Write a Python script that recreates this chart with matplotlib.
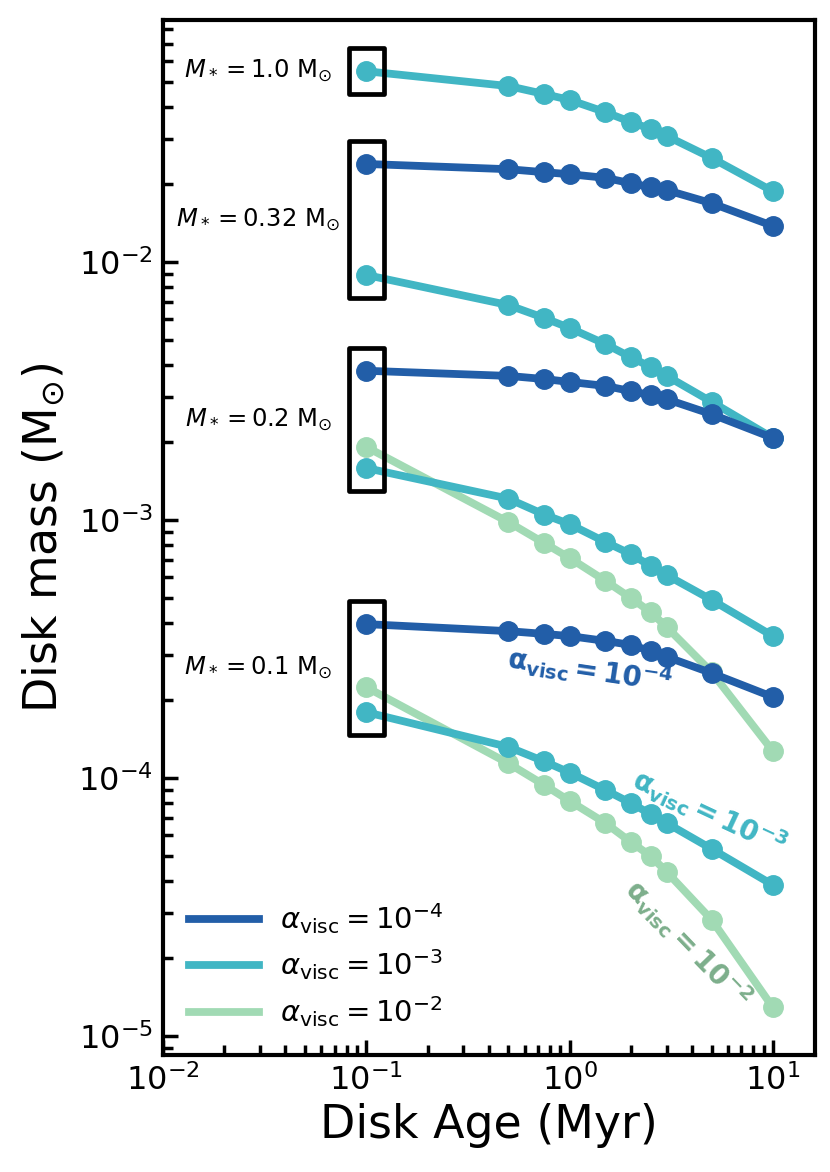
import matplotlib
matplotlib.use("Agg")
import matplotlib.pyplot as plt
from matplotlib.lines import Line2D
from matplotlib.patches import Rectangle
import numpy as np

# ---------------- data ----------------
ages = [0.1, 0.5, 0.75, 1.0, 1.5, 2.0, 2.5, 3.0, 5.0, 10.0]

m10_a3 = [0.0549, 0.0481, 0.0448, 0.0425, 0.0381, 0.0349, 0.0328, 0.0308, 0.0253, 0.0188]
m032_a4 = [0.0240, 0.0229, 0.0223, 0.0219, 0.0212, 0.0202, 0.0195, 0.0190, 0.0169, 0.0138]
m032_a3 = [0.00891, 0.00681, 0.00607, 0.00555, 0.00481, 0.00428, 0.00392, 0.00362, 0.00287, 0.00208]
m02_a4 = [0.00379, 0.00362, 0.00352, 0.00343, 0.00331, 0.00316, 0.00305, 0.00294, 0.00257, 0.00208]
m02_a3 = [0.00159, 0.00121, 0.00105, 0.000964, 0.000822, 0.000738, 0.000664, 0.000612, 0.000490, 0.000355]
m02_a2 = [0.00192, 0.000982, 0.000814, 0.000713, 0.000581, 0.000499, 0.000440, 0.000385, 0.000257, 0.000127]
m01_a4 = [0.000395, 0.000371, 0.000362, 0.000355, 0.000340, 0.000328, 0.000311, 0.000295, 0.000255, 0.000206]
m01_a3 = [0.000180, 0.000132, 0.000116, 0.000105, 0.0000898, 0.0000800, 0.0000725, 0.0000669, 0.0000531, 0.0000385]
m01_a2 = [0.000225, 0.000114, 0.0000940, 0.0000815, 0.0000669, 0.0000565, 0.0000499, 0.0000433, 0.0000282, 0.0000129]

alpha_labels = [r'$\alpha_{\rm visc} = 10^{-4}$', r'$\alpha_{\rm visc} = 10^{-3}$', r'$\alpha_{\rm visc} = 10^{-2}$']
annot_labels = [r'$\mathbf{\alpha_{visc} = 10^{-4}}$', r'$\mathbf{\alpha_{visc} = 10^{-3}}$', r'$\mathbf{\alpha_{visc} = 10^{-2}}$']
mass_labels = [r'$M_* = 1.0$ M$_{\odot}$', r'$M_* = 0.32$ M$_{\odot}$', r'$M_* = 0.2$ M$_{\odot}$', r'$M_* = 0.1$ M$_{\odot}$']

# ---------------- style ----------------
c4 = '#225ea8'
c3 = '#41b6c4'
c2 = '#a1dab4'
c2_text = '#7cae8b'
colors = [c4, c3, c2]
lw = 5.6
ms = 14

fig = plt.figure(figsize=(8.3, 11.72), dpi=100)
ax = fig.add_axes([0.1964, 0.0998, 0.9819 - 0.1964, 0.9829 - 0.0998])
ax.set_xscale('log')
ax.set_yscale('log')
ax.set_xlim(0.01, 16.1)
ax.set_ylim(8.44e-6, 0.0867)

series = [
    (m01_a2, c2), (m02_a2, c2),
    (m01_a3, c3), (m02_a3, c3), (m032_a3, c3), (m10_a3, c3),
    (m01_a4, c4), (m02_a4, c4), (m032_a4, c4),
]
for vals, col in series:
    ax.plot(ages, vals, '-o', color=col, lw=lw, ms=ms, zorder=3)

# boxes around first points
groups = [
    [m10_a3[0]],
    [m032_a4[0], m032_a3[0]],
    [m02_a4[0], m02_a3[0], m02_a2[0]],
    [m01_a4[0], m01_a3[0], m01_a2[0]],
]
xpad = 1.222
ypad = 1.23
for grp, lab in zip(groups, mass_labels):
    x0 = ages[0] / xpad
    x1 = ages[0] * xpad
    y0 = min(grp) / ypad
    y1 = max(grp) * ypad
    r = Rectangle((x0, y0), x1 - x0, y1 - y0, fill=False, ec='black', lw=3.4,
                  joinstyle='round', zorder=5)
    ax.add_patch(r)
    ax.text(0.0294, np.sqrt(y0 * y1), lab, ha='center', va='center', fontsize=17.5)

# inline annotations
ax.text(1.26, 2.62e-4, annot_labels[0], color=c4, fontsize=20, rotation=-8.5,
        ha='center', va='center', fontweight='bold')
ax.text(4.90, 7.35e-5, annot_labels[1], color=c3, fontsize=20, rotation=-25,
        ha='center', va='center', fontweight='bold')
ax.text(3.81, 2.29e-5, annot_labels[2], color=c2_text, fontsize=20, rotation=-46,
        ha='center', va='center', fontweight='bold')

# legend
handles = [Line2D([], [], color=c, lw=lw) for c in colors]
ax.legend(handles, alpha_labels, loc='lower left', frameon=False, fontsize=21,
          handlelength=2.4, handletextpad=0.7, labelspacing=0.4)

ax.set_xlabel('Disk Age (Myr)', fontsize=33, labelpad=4)
ax.set_ylabel(r'Disk mass (M$_{\odot}$)', fontsize=33, labelpad=8)

for s in ax.spines.values():
    s.set_linewidth(3)
ax.tick_params(which='both', direction='in', top=False, right=False, labelsize=23, pad=7)
ax.tick_params(which='major', length=11, width=2.5)
ax.tick_params(which='minor', length=7, width=2.5)

fig.savefig('out.png', dpi=100)
